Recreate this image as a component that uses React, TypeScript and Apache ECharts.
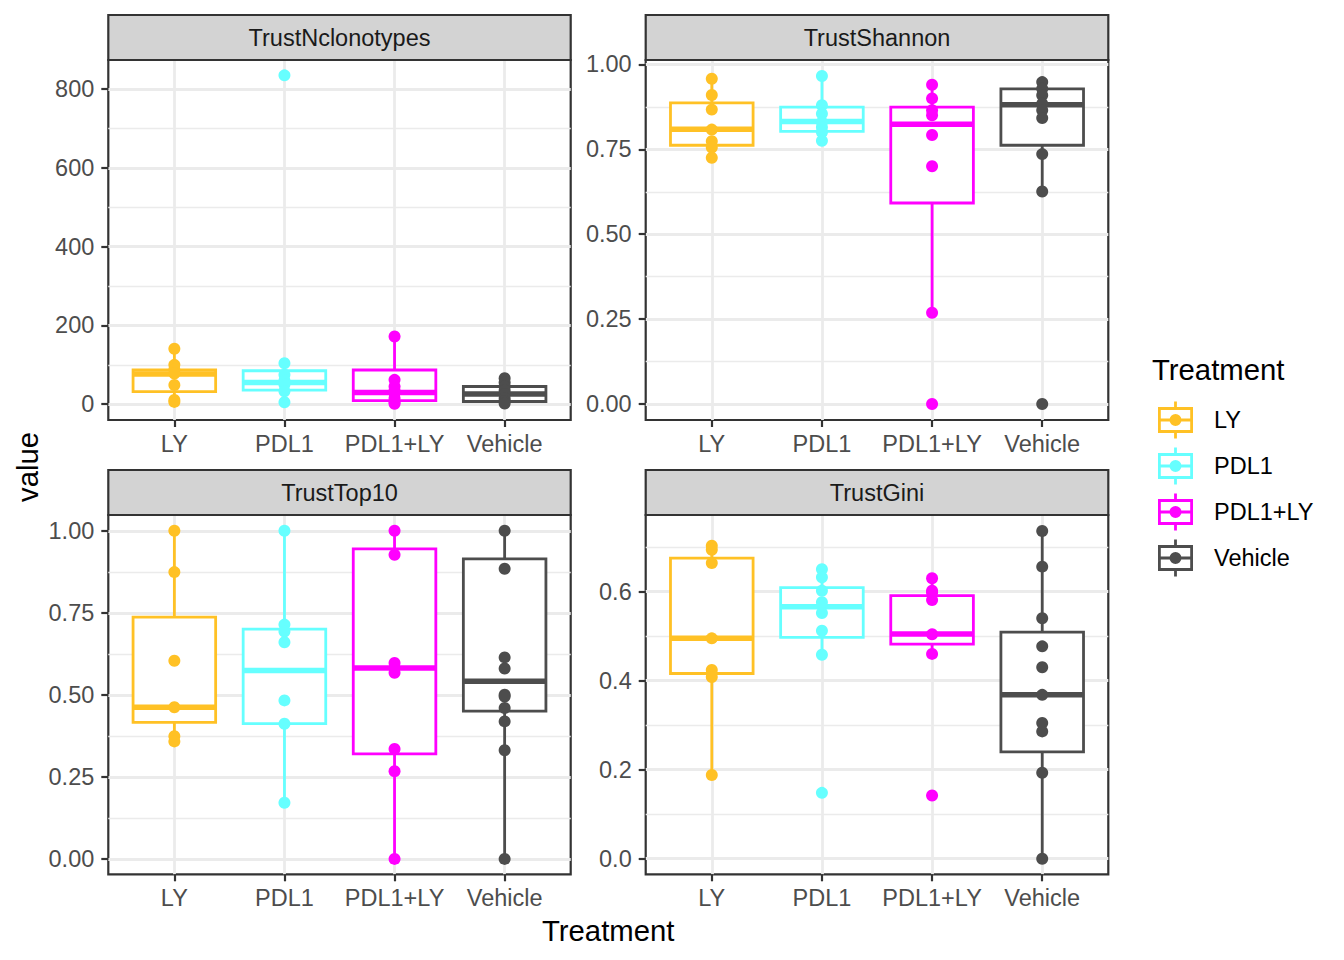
import React, { useEffect, useRef } from "react";
import * as echarts from "echarts";

const GROUPS = ["LY", "PDL1", "PDL1+LY", "Vehicle"];
const GROUP_COLORS = ["#FFC125", "#66FFFF", "#FF00FF", "#4D4D4D"];
const PANEL_TITLES = ["TrustNclonotypes", "TrustShannon", "TrustTop10", "TrustGini"];

// TrustNclonotypes
const NCLONO_LY = [141, 100, 88, 78, 49, 11, 6];
const NCLONO_PDL1 = [835, 104, 75, 60, 50, 33, 5];
const NCLONO_COMBO = [172, 62, 45, 35, 28, 15, 5, 1];
const NCLONO_VEH = [66, 55, 45, 35, 26, 15, 8, 2];
// [lower whisker, Q1, median, Q3, upper whisker]
const NCLONO_BOX = [
  [6, 32, 77, 87, 141],
  [5, 36, 55, 85, 104],
  [1, 9, 30, 87, 172],
  [2, 7, 26, 45, 66],
];
const NCLONO_TICKS = [0, 200, 400, 600, 800];
const NCLONO_MINOR = [100, 300, 500, 700];
const NCLONO_RANGE = [-40, 874];

// TrustShannon
const SHANNON_LY = [0.958, 0.91, 0.867, 0.808, 0.774, 0.755, 0.725];
const SHANNON_PDL1 = [0.966, 0.88, 0.855, 0.83, 0.815, 0.8, 0.775];
const SHANNON_COMBO = [0.94, 0.9, 0.865, 0.85, 0.792, 0.7, 0.269, 0];
const SHANNON_VEH = [0.948, 0.928, 0.909, 0.884, 0.865, 0.842, 0.736, 0.626, 0];
const SHANNON_BOX = [
  [0.725, 0.762, 0.809, 0.887, 0.958],
  [0.775, 0.803, 0.832, 0.874, 0.966],
  [0.269, 0.592, 0.824, 0.874, 0.94],
  [0.626, 0.762, 0.881, 0.928, 0.948],
];
const SHANNON_TICKS = [0, 0.25, 0.5, 0.75, 1.0];
const SHANNON_MINOR = [0.125, 0.375, 0.625, 0.875];
const SHANNON_RANGE = [-0.047, 1.013];

// TrustTop10
const TOP10_LY = [1.0, 0.874, 0.604, 0.462, 0.374, 0.358];
const TOP10_PDL1 = [1.0, 0.714, 0.693, 0.66, 0.483, 0.412, 0.171];
const TOP10_COMBO = [1.0, 0.927, 0.597, 0.582, 0.567, 0.335, 0.267, 0];
const TOP10_VEH = [1.0, 0.884, 0.614, 0.58, 0.5, 0.495, 0.46, 0.419, 0.331, 0];
const TOP10_BOX = [
  [0.358, 0.416, 0.462, 0.737, 1.0],
  [0.171, 0.412, 0.574, 0.7, 1.0],
  [0, 0.32, 0.582, 0.945, 1.0],
  [0, 0.45, 0.541, 0.914, 1.0],
];
const TOP10_TICKS = [0, 0.25, 0.5, 0.75, 1.0];
const TOP10_MINOR = [0.125, 0.375, 0.625, 0.875];
const TOP10_RANGE = [-0.047, 1.048];

// TrustGini
const GINI_LY = [0.703, 0.694, 0.664, 0.495, 0.424, 0.408, 0.188];
const GINI_PDL1 = [0.65, 0.632, 0.602, 0.576, 0.552, 0.512, 0.458, 0.148];
const GINI_COMBO = [0.63, 0.602, 0.598, 0.581, 0.504, 0.46, 0.142];
const GINI_VEH = [0.736, 0.656, 0.54, 0.477, 0.43, 0.368, 0.305, 0.286, 0.193, 0];
const GINI_BOX = [
  [0.188, 0.416, 0.495, 0.675, 0.703],
  [0.458, 0.497, 0.566, 0.609, 0.65],
  [0.46, 0.482, 0.505, 0.591, 0.63],
  [0, 0.24, 0.368, 0.509, 0.736],
];
const GINI_TICKS = [0, 0.2, 0.4, 0.6];
const GINI_MINOR = [0.1, 0.3, 0.5, 0.7];
const GINI_RANGE = [-0.035, 0.772];

const PANELS = [
  { points: [NCLONO_LY, NCLONO_PDL1, NCLONO_COMBO, NCLONO_VEH], box: NCLONO_BOX, ticks: NCLONO_TICKS, minor: NCLONO_MINOR, range: NCLONO_RANGE, digits: 0 },
  { points: [SHANNON_LY, SHANNON_PDL1, SHANNON_COMBO, SHANNON_VEH], box: SHANNON_BOX, ticks: SHANNON_TICKS, minor: SHANNON_MINOR, range: SHANNON_RANGE, digits: 2 },
  { points: [TOP10_LY, TOP10_PDL1, TOP10_COMBO, TOP10_VEH], box: TOP10_BOX, ticks: TOP10_TICKS, minor: TOP10_MINOR, range: TOP10_RANGE, digits: 2 },
  { points: [GINI_LY, GINI_PDL1, GINI_COMBO, GINI_VEH], box: GINI_BOX, ticks: GINI_TICKS, minor: GINI_MINOR, range: GINI_RANGE, digits: 1 },
];

// layout (pixels)
const LAYOUT = [
  { left: 108.3, top: 60, width: 462.4, height: 360 },
  { left: 645.7, top: 60, width: 462.6, height: 360 },
  { left: 108.3, top: 515, width: 462.4, height: 359.3 },
  { left: 645.7, top: 515, width: 462.6, height: 359.3 },
];
const STRIP_H = 45;
const FONT = "'Liberation Sans', Arial, Helvetica, sans-serif";
const AXIS_FS = 23.5;
const TITLE_FS = 29.3;

function rp(x: number, y: number, w: number, h: number) {
  return `M${x} ${y}h${w}v${h}h${-w}Z`;
}
const ICON =
  "path://" +
  rp(16.1, 0, 2.8, 8.4) +
  rp(0, 5.6, 35, 2.8) +
  rp(0, 28.6, 35, 2.8) +
  rp(0, 5.6, 2.8, 25.8) +
  rp(32.2, 5.6, 2.8, 25.8) +
  rp(0, 17.1, 35, 2.8) +
  rp(16.1, 28.6, 2.8, 8.4) +
  "M23.5 18.5A6 6 0 1 1 11.5 18.5A6 6 0 1 1 23.5 18.5Z";

function buildOption() {
  const grid: any[] = [];
  const xAxis: any[] = [];
  const yAxis: any[] = [];
  const series: any[] = [];
  const graphic: any[] = [];

  PANELS.forEach((p, i) => {
    const L = LAYOUT[i];
    grid.push({
      left: L.left,
      top: L.top,
      width: L.width,
      height: L.height,
      show: true,
      backgroundColor: "#FFFFFF",
      borderColor: "#333333",
      borderWidth: 2.2,
      containLabel: false,
      outerBoundsMode: "none",
    });
    xAxis.push({
      type: "value",
      gridIndex: i,
      position: "bottom",
      min: 0.4,
      max: 4.6,
      axisLine: { show: false, onZero: false },
      axisTick: {
        show: true,
        inside: false,
        length: 7,
        customValues: [1, 2, 3, 4],
        lineStyle: { color: "#333333", width: 2.2 },
      },
      axisLabel: {
        customValues: [1, 2, 3, 4],
        formatter: (v: number) => GROUPS[Math.round(v) - 1] ?? "",
        fontSize: AXIS_FS,
        lineHeight: AXIS_FS,
        fontFamily: FONT,
        color: "#4D4D4D",
        margin: 12,
      },
      splitLine: { show: true, lineStyle: { color: "#EBEBEB", width: 2.8 } },
      minorSplitLine: { show: false },
    });
    yAxis.push({
      type: "value",
      gridIndex: i,
      position: "left",
      min: p.range[0],
      max: p.range[1],
      axisLine: { show: false, onZero: false },
      axisTick: {
        show: true,
        inside: false,
        length: 7,
        customValues: p.ticks,
        lineStyle: { color: "#333333", width: 2.2 },
      },
      axisLabel: {
        customValues: p.ticks,
        formatter: (v: number) => v.toFixed(p.digits),
        fontSize: AXIS_FS,
        lineHeight: AXIS_FS,
        fontFamily: FONT,
        color: "#4D4D4D",
        margin: 14,
      },
      splitLine: { show: true, lineStyle: { color: "#EBEBEB", width: 2.8 } },
    });
    yAxis.push({
      type: "value",
      gridIndex: i,
      position: "left",
      min: p.range[0],
      max: p.range[1],
      axisLine: { show: false, onZero: false },
      axisTick: { show: false, customValues: p.minor },
      axisLabel: { show: false, customValues: p.minor },
      splitLine: { show: true, lineStyle: { color: "#EBEBEB", width: 1.4 } },
    });

    GROUPS.forEach((g, gi) => {
      const color = GROUP_COLORS[gi];
      const b = p.box[gi];
      series.push({
        type: "custom",
        name: g,
        xAxisIndex: i,
        yAxisIndex: i * 2,
        itemStyle: { color },
        silent: true,
        z: 2,
        encode: { x: 0, y: [1, 2, 3, 4, 5] },
        data: [[gi + 1, b[0], b[1], b[2], b[3], b[4]]],
        renderItem: (params: any, api: any) => {
          const x = api.value(0);
          const mn = api.value(1);
          const q1 = api.value(2);
          const med = api.value(3);
          const q3 = api.value(4);
          const mx = api.value(5);
          const hw = 0.375;
          const tl = api.coord([x - hw, q3]);
          const br = api.coord([x + hw, q1]);
          const top = api.coord([x, mx]);
          const q3p = api.coord([x, q3]);
          const q1p = api.coord([x, q1]);
          const bot = api.coord([x, mn]);
          const ml = api.coord([x - hw, med]);
          const mr = api.coord([x + hw, med]);
          return {
            type: "group",
            children: [
              { type: "line", shape: { x1: top[0], y1: top[1], x2: q3p[0], y2: q3p[1] }, style: { stroke: color, lineWidth: 2.8 } },
              { type: "line", shape: { x1: q1p[0], y1: q1p[1], x2: bot[0], y2: bot[1] }, style: { stroke: color, lineWidth: 2.8 } },
              { type: "rect", shape: { x: tl[0], y: tl[1], width: br[0] - tl[0], height: br[1] - tl[1] }, style: { fill: "#FFFFFF", stroke: color, lineWidth: 2.8 } },
              { type: "line", shape: { x1: ml[0], y1: ml[1], x2: mr[0], y2: mr[1] }, style: { stroke: color, lineWidth: 5.5, lineCap: "butt" } },
            ],
          };
        },
      });
    });
    GROUPS.forEach((g, gi) => {
      series.push({
        type: "scatter",
        name: g,
        xAxisIndex: i,
        yAxisIndex: i * 2,
        symbol: "circle",
        symbolSize: 12,
        clip: false,
        silent: true,
        z: 3,
        itemStyle: { color: GROUP_COLORS[gi], opacity: 1 },
        data: p.points[gi].map((v) => [gi + 1, v]),
      });
    });

    // strip
    graphic.push({
      type: "rect",
      shape: { x: L.left, y: L.top - STRIP_H, width: L.width, height: STRIP_H },
      style: { fill: "#D3D3D3", stroke: "#333333", lineWidth: 2.2 },
      z: 10,
    });
    graphic.push({
      type: "text",
      x: L.left + L.width / 2,
      y: L.top - STRIP_H / 2,
      style: {
        text: PANEL_TITLES[i],
        fontSize: AXIS_FS,
        fontFamily: FONT,
        fill: "#1A1A1A",
        textAlign: "center",
        textVerticalAlign: "middle",
      },
      z: 11,
    });
  });

  graphic.push({
    type: "text",
    x: 608.2,
    y: 930,
    style: {
      text: "Treatment",
      fontSize: TITLE_FS,
      fontFamily: FONT,
      fill: "#000000",
      textAlign: "center",
      textVerticalAlign: "middle",
    },
  });
  graphic.push({
    type: "text",
    x: 27.5,
    y: 467,
    rotation: Math.PI / 2,
    style: {
      text: "value",
      fontSize: TITLE_FS,
      fontFamily: FONT,
      fill: "#000000",
      textAlign: "center",
      textVerticalAlign: "middle",
    },
  });

  return {
    animation: false,
    backgroundColor: "#FFFFFF",
    title: {
      text: "Treatment",
      left: 1152,
      top: 355,
      padding: 0,
      textStyle: { fontSize: TITLE_FS, fontWeight: "normal", fontFamily: FONT, color: "#000000", lineHeight: TITLE_FS },
    },
    legend: {
      orient: "vertical",
      left: 1158,
      top: 401.5,
      padding: 0,
      itemGap: 9,
      itemWidth: 35,
      itemHeight: 37,
      selectedMode: false,
      textStyle: { fontSize: AXIS_FS, fontFamily: FONT, color: "#000000", padding: [0, 0, 0, 16] },
      data: GROUPS.map((g, gi) => ({
        name: g,
        icon: ICON,
        itemStyle: { color: GROUP_COLORS[gi], borderWidth: 0, opacity: 1 },
      })),
    },
    grid,
    xAxis,
    yAxis,
    series,
    graphic,
  };
}

export default function App() {
  const ref = useRef<HTMLDivElement>(null);
  useEffect(() => {
    if (!ref.current) return;
    const chart = echarts.init(ref.current, null, { renderer: "svg" });
    chart.setOption(buildOption() as any);
    return () => chart.dispose();
  }, []);
  return (
    <div
      ref={ref}
      style={{ position: "fixed", left: 0, top: 0, width: 1344, height: 960, background: "#FFFFFF" }}
    />
  );
}
